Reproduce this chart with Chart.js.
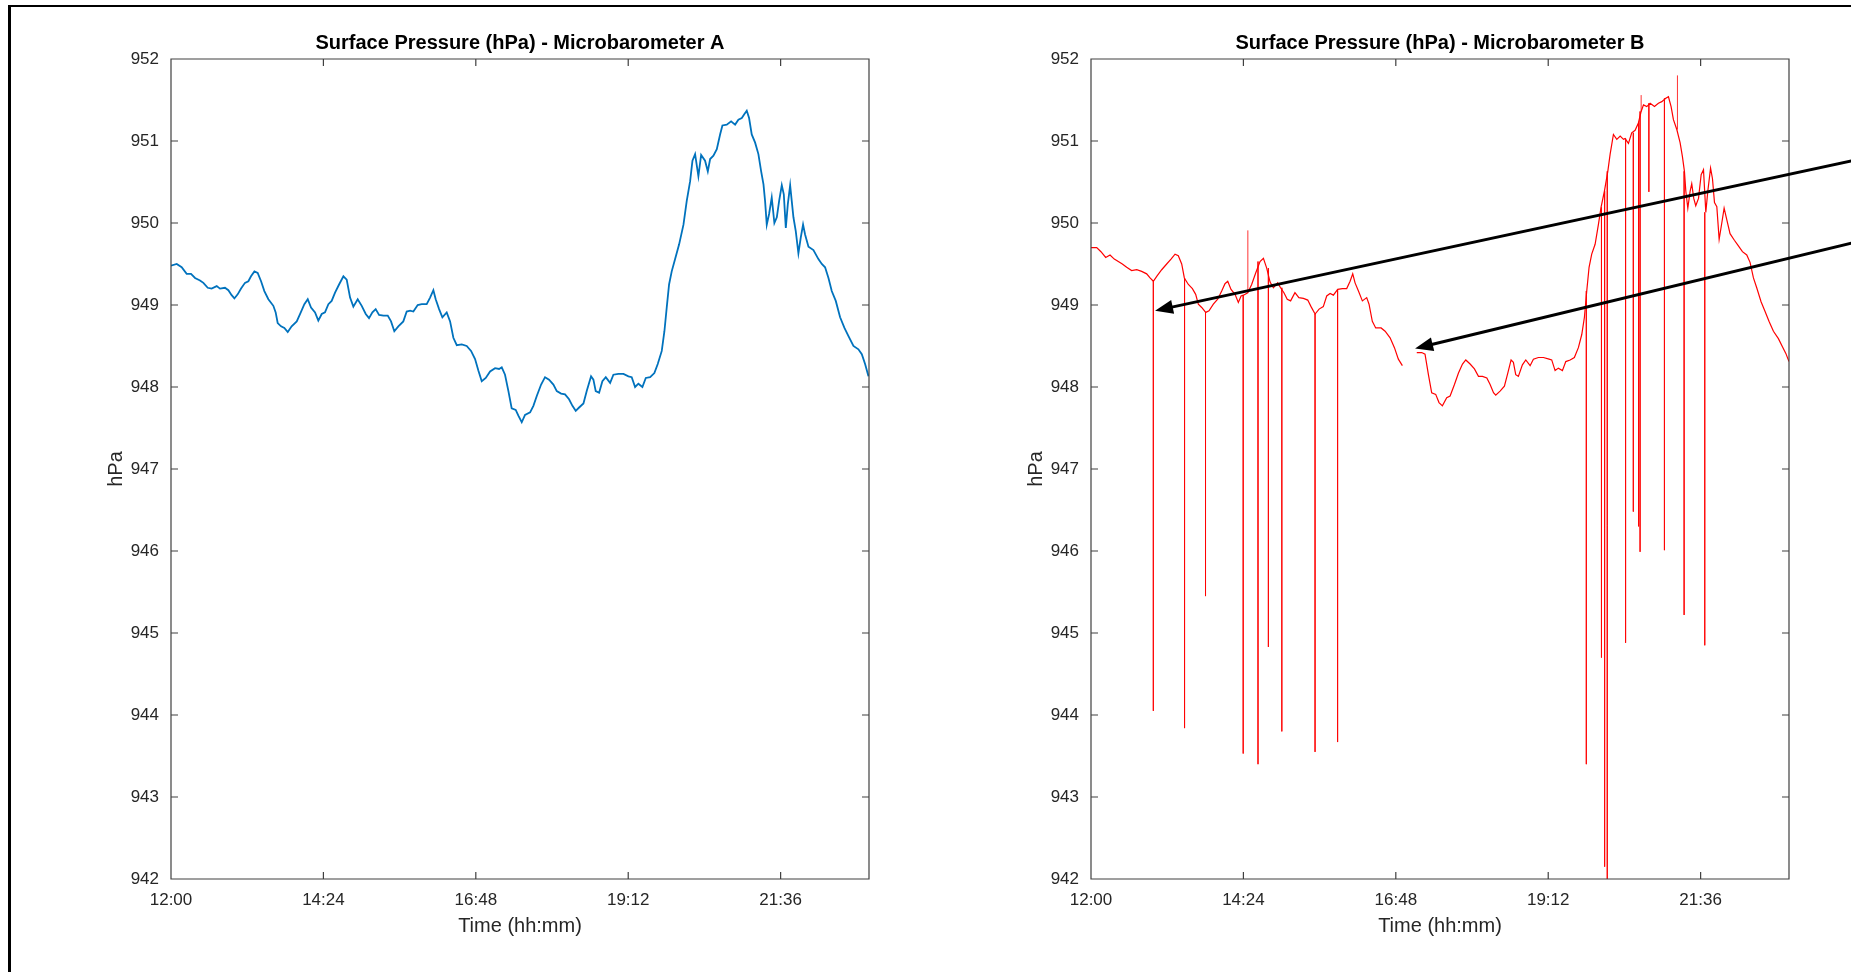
<!DOCTYPE html>
<html>
<head>
<meta charset="utf-8">
<title>Surface Pressure - Microbarometers A and B</title>
<script src="https://cdn.jsdelivr.net/npm/chart.js@4.4.1/dist/chart.umd.min.js"></script>
<style>
  html, body { margin: 0; padding: 0; background: #fff; overflow: hidden; }
  #page { position: relative; width: 1851px; height: 972px; }
  #frame { position: absolute; left: 8px; top: 5px; right: 0; bottom: 0;
           border-left: 3px solid #000; border-top: 2px solid #000; }
  canvas.panel { position: absolute; top: 0; }
</style>
</head>
<body>
<div id="page">
  <div id="frame"></div>
  <canvas id="chartA" class="panel" style="left:0px" width="925" height="972"></canvas>
  <canvas id="chartB" class="panel" style="left:920px" width="931" height="972"></canvas>
</div>
<script>
// ---- Axis ticks -------------------------------------------------------
const xTickLabels = ['12:00', '14:24', '16:48', '19:12', '21:36'];
const yTickValues = [942, 943, 944, 945, 946, 947, 948, 949, 950, 951, 952];
const X_END = 659.5;            // last sample, minutes after 12:00

// ---- Microbarometer A: minutes after 12:00 / pressure (hPa) ------------
const minutesA = [
  0, 5.4, 10.1, 14.8, 18.9, 22.7, 27.4, 30.6, 34.7, 38.4, 43.2, 46.3, 51.0, 54.2, 57.3, 59.9,
  63.0, 66.2, 69.9, 73.1, 75.6, 78.8, 81.9, 85.1, 88.2, 92.0, 96.7, 98.9, 100.8, 104.0, 107.1,
  110.3, 114.0, 118.8, 121.9, 126.0, 129.2, 132.3, 136.1, 139.2, 142.4, 145.5, 148.7, 151.8,
  155.0, 158.8, 162.9, 166.0, 169.2, 172.3, 176.4, 180.2, 184.0, 187.1, 190.3, 193.4, 196.6,
  200.7, 204.8, 207.9, 211.0, 214.8, 219.5, 222.7, 225.9, 229.0, 233.1, 236.9, 241.6, 244.8,
  247.9, 250.1, 253.3, 256.4, 260.5, 263.7, 266.8, 270.0, 274.7, 279.4, 283.5, 287.3, 290.4,
  293.6, 297.4, 301.5, 306.2, 310.0, 312.5, 315.6, 318.8, 321.9, 325.7, 328.2, 331.4, 334.5,
  339.3, 342.4, 345.6, 349.7, 353.4, 357.2, 361.3, 364.5, 368.6, 372.3, 376.1, 379.3, 382.4,
  385.6, 389.7, 392.8, 396.9, 399.1, 401.3, 404.5, 407.6, 410.8, 414.9, 418.0, 422.7, 427.5,
  432.2, 435.3, 438.5, 441.6, 445.4, 448.6, 452.7, 456.7, 459.9, 463.7, 466.2, 468.4, 470.6,
  473.1, 476.3, 480.1, 484.2, 487.3, 490.5, 492.7, 495.2, 498.3, 500.9, 504.6, 507.2, 509.4,
  512.5, 515.7, 518.8, 521.0, 525.1, 529.2, 533.0, 536.1, 539.3, 541.8, 544.0, 546.2, 548.7,
  551.9, 555.0, 557.6, 559.8, 561.3, 562.9, 565.1, 567.6, 570.1, 572.4, 574.6, 577.1, 579.0,
  580.9, 582.8, 585.0, 586.5, 588.1, 590.3, 592.8, 595.0, 597.2, 599.1, 602.3, 607.0, 611.7,
  614.9, 618.0, 621.2, 624.3, 628.1, 632.2, 636.3, 640.1, 644.8, 649.5, 652.7, 655.8, 659.0
];
const pressureA = [
  949.48, 949.50, 949.46, 949.38, 949.38, 949.33, 949.30, 949.27, 949.21, 949.20, 949.23, 949.20, 949.21, 949.18, 949.12, 949.08,
  949.13, 949.20, 949.27, 949.29, 949.35, 949.41, 949.39, 949.29, 949.17, 949.07, 948.99, 948.91, 948.78, 948.74, 948.72,
  948.67, 948.74, 948.80, 948.89, 949.01, 949.07, 948.97, 948.91, 948.81, 948.89, 948.91, 949.01, 949.05,
  949.15, 949.25, 949.35, 949.31, 949.09, 948.98, 949.07, 948.99, 948.89, 948.84, 948.91, 948.95, 948.88,
  948.87, 948.87, 948.80, 948.68, 948.74, 948.80, 948.92, 948.93, 948.92, 949.00, 949.01, 949.01, 949.09,
  949.18, 949.07, 948.95, 948.85, 948.91, 948.80, 948.60, 948.51, 948.52, 948.50, 948.44, 948.34, 948.20,
  948.07, 948.11, 948.19, 948.23, 948.22, 948.24, 948.15, 947.95, 947.74, 947.72, 947.65, 947.57, 947.66,
  947.69, 947.77, 947.89, 948.03, 948.12, 948.09, 948.03, 947.95, 947.92, 947.91, 947.85, 947.77, 947.71,
  947.75, 947.80, 947.95, 948.13, 948.09, 947.95, 947.93, 948.07, 948.12, 948.05, 948.15, 948.16, 948.16,
  948.13, 948.12, 948.00, 948.04, 948.00, 948.11, 948.12, 948.17, 948.28, 948.44, 948.68, 948.97, 949.25,
  949.41, 949.56, 949.74, 949.98, 950.27, 950.51, 950.76, 950.84, 950.57, 950.83, 950.76, 950.63, 950.78,
  950.82, 950.90, 951.08, 951.19, 951.20, 951.24, 951.20, 951.26, 951.28, 951.33, 951.37, 951.28, 951.08,
  950.98, 950.84, 950.63, 950.47, 950.27, 949.98, 950.11, 950.31, 950.00, 950.07, 950.27, 950.46, 950.35,
  949.94, 950.23, 950.46, 950.27, 950.07, 949.90, 949.63, 949.82, 949.98, 949.86, 949.71, 949.67, 949.56,
  949.50, 949.46, 949.33, 949.17, 949.05, 948.85, 948.72, 948.62, 948.50, 948.46, 948.40, 948.28, 948.13
];

// ---- Microbarometer B (null = no data) ----------------------------------
const minutesB = [
  0, 5.4, 9.4, 13.9, 18.0, 22.0, 25.8, 29.6, 33.7, 38.4, 43.2, 47.9, 52.6, 55.8, 58.9, 62.1,
  66.8, 71.5, 75.6, 79.4, 82.5, 85.7, 88.2, 92.0, 95.8, 98.9, 101.4, 104.6, 108.4, 111.5, 115.6,
  119.7, 123.5, 126.6, 129.2, 132.3, 136.1, 139.2, 141.8, 144.0, 148.1, 151.8, 155.6, 159.7,
  162.9, 166.0, 169.2, 172.3, 176.4, 179.1, 182.3, 185.4, 188.6, 192.7, 196.4, 200.7, 204.8,
  207.9, 211.7, 215.5, 219.5, 222.7, 225.9, 229.0, 233.1, 237.5, 241.6, 244.8, 247.3, 249.5,
  252.7, 256.4, 260.5, 262.7, 265.8, 269.0, 274.1, 277.9, 282.6, 286.7, 290.4, 294.2, 301.0,
  307.8, 312.5, 315.6, 318.8, 321.9, 325.7, 328.8, 332.0, 336.1, 339.3, 343.4, 347.2, 351.0,
  354.1, 358.2, 362.3, 366.1, 369.9, 374.0, 377.1, 380.3, 382.4, 386.5, 390.6, 393.8, 396.9,
  399.1, 401.3, 403.8, 407.6, 410.8, 414.9, 418.0, 422.7, 427.5, 432.8, 435.3, 438.5, 441.6,
  445.4, 448.6, 452.7, 456.7, 460.5, 463.7, 466.2, 468.4, 470.6, 473.1, 476.3, 479.4, 481.9,
  485.1, 488.3, 490.5, 493.6, 496.8, 500.0, 503.1, 504.6, 507.8, 510.9, 514.1, 517.2, 519.8,
  522.0, 525.1, 528.3, 532.4, 536.1, 539.3, 543.1, 545.6, 548.1, 550.3, 553.5, 556.6, 558.8,
  560.7, 562.0, 563.9, 566.1, 567.6, 569.5, 571.4, 574.0, 576.5, 578.7, 580.9, 582.8, 585.4,
  587.2, 589.1, 591.3, 593.5, 596.0, 598.2, 600.7, 603.8, 607.9, 611.7, 615.5, 619.6, 622.7,
  625.9, 629.0, 633.1, 636.9, 640.7, 644.8, 649.5, 653.3, 656.5, 659.5
];
const pressureB = [
  949.70, 949.70, 949.65, 949.58, 949.61, 949.56, 949.53, 949.50, 949.46, 949.42, 949.43, 949.41, 949.38, 949.33, 949.29, 949.35,
  949.43, 949.50, 949.56, 949.62, 949.60, 949.50, 949.33, 949.25, 949.20, 949.13, 949.01, 948.97, 948.91, 948.93, 949.01,
  949.07, 949.17, 949.26, 949.29, 949.19, 949.13, 949.03, 949.11, 949.12, 949.15, 949.25, 949.39, 949.53,
  949.57, 949.45, 949.28, 949.21, 949.27, 949.21, 949.15, 949.07, 949.05, 949.15, 949.09, 949.08, 949.06,
  948.98, 948.89, 948.95, 948.98, 949.11, 949.14, 949.12, 949.19, 949.20, 949.20, 949.29, 949.38, 949.27,
  949.17, 949.05, 949.09, 949.01, 948.80, 948.72, 948.72, 948.68, 948.60, 948.48, 948.34, 948.26, null,
  948.42, 948.42, 948.40, 948.15, 947.93, 947.91, 947.81, 947.77, 947.87, 947.89, 948.03, 948.17, 948.28,
  948.33, 948.28, 948.22, 948.13, 948.13, 948.11, 948.03, 947.93, 947.90, 947.95, 948.01, 948.17, 948.33,
  948.30, 948.15, 948.13, 948.27, 948.33, 948.26, 948.34, 948.36, 948.36, 948.34, 948.33, 948.20, 948.23,
  948.20, 948.31, 948.33, 948.36, 948.48, 948.64, 948.85, 949.17, 949.46, 949.62, 949.74, 949.98, 950.19,
  950.39, 950.63, 950.84, 951.08, 951.02, 951.06, 951.02, 951.03, 950.97, 951.10, 951.13, 951.22, 951.36,
  951.44, 951.42, 951.46, 951.42, 951.46, 951.48, 951.52, 951.54, 951.42, 951.26, 951.14, 950.98, 950.81,
  950.63, 950.39, 950.18, 950.39, 950.48, 950.30, 950.21, 950.30, 950.59, 950.65, 950.13, 950.39, 950.67,
  950.54, 950.25, 950.20, 949.80, 950.00, 950.18, 950.04, 949.87, 949.79, 949.72, 949.65, 949.61, 949.52,
  949.33, 949.21, 949.04, 948.92, 948.80, 948.68, 948.59, 948.49, 948.41, 948.31
];

// Single-sample dropouts / jumps in B: time and the reading at that sample
const spikeMinutesB = [
  58.9, 88.4, 108.2, 143.8, 148.2, 157.8, 167.6, 180.3, 211.7, 233.0,
  468.0, 482.3, 485.3, 487.8, 505.1, 512.4, 517.4, 518.8, 519.8, 527.1, 541.8, 554.1, 560.4, 579.9
];
const spikeValuesB = [
  944.05, 943.84, 945.45, 943.53, 949.91, 943.40, 944.83, 943.80, 943.55, 943.67,
  943.40, 944.70, 942.15, 942.00, 944.88, 946.48, 946.30, 945.99, 951.56, 950.38, 946.01, 951.80, 945.22, 944.85
];

// Annotation arrows on B (data units; tails lie to the right of the axes)
const arrowTailMinutes = [726.7, 726.7];
const arrowTailHpa     = [950.78, 949.78];
const arrowTipMinutes  = [60.5, 306.2];
const arrowTipHpa      = [948.93, 948.47];

// ---- Helpers ----------------------------------------------------------
const xTickMinutes = xTickLabels.map(s => {
  const [h, m] = s.split(':').map(Number);
  return (h - 12) * 60 + m;
});

function toPoints(xs, ys) {
  return xs.map((x, i) => ({ x: x, y: ys[i] }));
}

function nearestReading(t) {
  let best = -1, bestD = Infinity;
  minutesB.forEach((m, i) => {
    if (pressureB[i] === null) return;
    const d = Math.abs(m - t);
    if (d < bestD) { bestD = d; best = i; }
  });
  return pressureB[best];
}

function spikePoints() {
  const pts = [];
  spikeMinutesB.forEach((t, i) => {
    pts.push({ x: t, y: nearestReading(t) });
    pts.push({ x: t, y: spikeValuesB[i] });
    pts.push({ x: t, y: null });
  });
  return pts;
}

Chart.defaults.font.family = '"Liberation Sans", Arial, Helvetica, sans-serif';
Chart.defaults.color = '#262626';

const AXIS_COLOR = '#404040';
const TICK_LEN = 7;

// Full box around the plot with inward tick marks on all four sides
const axesBox = {
  id: 'axesBox',
  afterDatasetsDraw(chart) {
    const { ctx, chartArea: a, scales: { x, y } } = chart;
    ctx.save();
    ctx.strokeStyle = AXIS_COLOR;
    ctx.lineWidth = 1.2;
    ctx.beginPath();
    ctx.rect(a.left, a.top, a.right - a.left, a.bottom - a.top);
    x.ticks.forEach(t => {
      const px = x.getPixelForValue(t.value);
      ctx.moveTo(px, a.bottom); ctx.lineTo(px, a.bottom - TICK_LEN);
      ctx.moveTo(px, a.top);    ctx.lineTo(px, a.top + TICK_LEN);
    });
    y.ticks.forEach(t => {
      const py = y.getPixelForValue(t.value);
      ctx.moveTo(a.left, py);  ctx.lineTo(a.left + TICK_LEN, py);
      ctx.moveTo(a.right, py); ctx.lineTo(a.right - TICK_LEN, py);
    });
    ctx.stroke();
    ctx.restore();
  }
};

// Black call-out arrows
const arrowNotes = {
  id: 'arrowNotes',
  afterDraw(chart) {
    const { ctx, scales: { x, y } } = chart;
    ctx.save();
    ctx.strokeStyle = '#000';
    ctx.fillStyle = '#000';
    ctx.lineWidth = 3;
    arrowTipMinutes.forEach((_, i) => {
      const x0 = x.getPixelForValue(arrowTailMinutes[i]);
      const y0 = y.getPixelForValue(arrowTailHpa[i]);
      const x1 = x.getPixelForValue(arrowTipMinutes[i]);
      const y1 = y.getPixelForValue(arrowTipHpa[i]);
      const ang = Math.atan2(y1 - y0, x1 - x0);
      const head = 18, half = 7;
      const bx = x1 - head * Math.cos(ang), by = y1 - head * Math.sin(ang);
      ctx.beginPath();
      ctx.moveTo(x0, y0);
      ctx.lineTo(bx + 2 * Math.cos(ang), by + 2 * Math.sin(ang));
      ctx.stroke();
      ctx.beginPath();
      ctx.moveTo(x1, y1);
      ctx.lineTo(bx + half * Math.sin(ang), by - half * Math.cos(ang));
      ctx.lineTo(bx - half * Math.sin(ang), by + half * Math.cos(ang));
      ctx.closePath();
      ctx.fill();
    });
    ctx.restore();
  }
};

function buildChart(canvasId, titleText, datasets, plugins, padRight) {
  return new Chart(document.getElementById(canvasId), {
    type: 'line',
    data: { datasets: datasets },
    plugins: [axesBox].concat(plugins),
    options: {
      responsive: false,
      animation: false,
      devicePixelRatio: 1,
      events: [],
      layout: { padding: { left: 0, right: padRight, top: 0, bottom: 0 } },
      elements: { point: { radius: 0 }, line: { tension: 0 } },
      plugins: {
        legend: { display: false },
        tooltip: { enabled: false },
        title: {
          display: true,
          text: titleText,
          fullSize: false,
          color: '#000',
          font: { size: 20, weight: 'bold' },
          padding: { top: 31, bottom: 4 }
        }
      },
      scales: {
        x: {
          type: 'linear',
          min: 0,
          max: X_END,
          grid: { display: false, drawTicks: false },
          border: { display: false },
          afterBuildTicks: s => { s.ticks = xTickMinutes.map(v => ({ value: v })); },
          afterFit: s => { s.height = 93; },
          ticks: {
            padding: 11, autoSkip: false, maxRotation: 0,
            color: '#262626', font: { size: 17 },
            callback: (v, i) => xTickLabels[i]
          },
          title: {
            display: true, text: 'Time (hh:mm)', color: '#262626',
            font: { size: 20 }, padding: { top: 0, bottom: 34 }
          }
        },
        y: {
          type: 'linear',
          min: 942,
          max: 952,
          grid: { display: false, drawTicks: false },
          border: { display: false },
          afterBuildTicks: s => { s.ticks = yTickValues.map(v => ({ value: v })); },
          afterFit: s => { s.width = 171; },
          ticks: {
            padding: 12, autoSkip: false,
            color: '#262626', font: { size: 17 },
            callback: v => String(v)
          },
          title: {
            display: true, text: 'hPa', color: '#262626',
            font: { size: 20 }, padding: { top: 104, bottom: 0 }
          }
        }
      }
    }
  });
}

buildChart('chartA', 'Surface Pressure (hPa) - Microbarometer A', [
  {
    data: toPoints(minutesA, pressureA),
    borderColor: '#0072BD',
    borderWidth: 1.8,
    spanGaps: false
  }
], [], 56);

buildChart('chartB', 'Surface Pressure (hPa) - Microbarometer B', [
  {
    data: toPoints(minutesB, pressureB),
    borderColor: '#FF0000',
    borderWidth: 1.2,
    spanGaps: false
  },
  {
    data: spikePoints(),
    borderColor: 'rgba(255,0,0,0.8)',
    borderWidth: 1,
    spanGaps: false
  }
], [arrowNotes], 62);
</script>
</body>
</html>
